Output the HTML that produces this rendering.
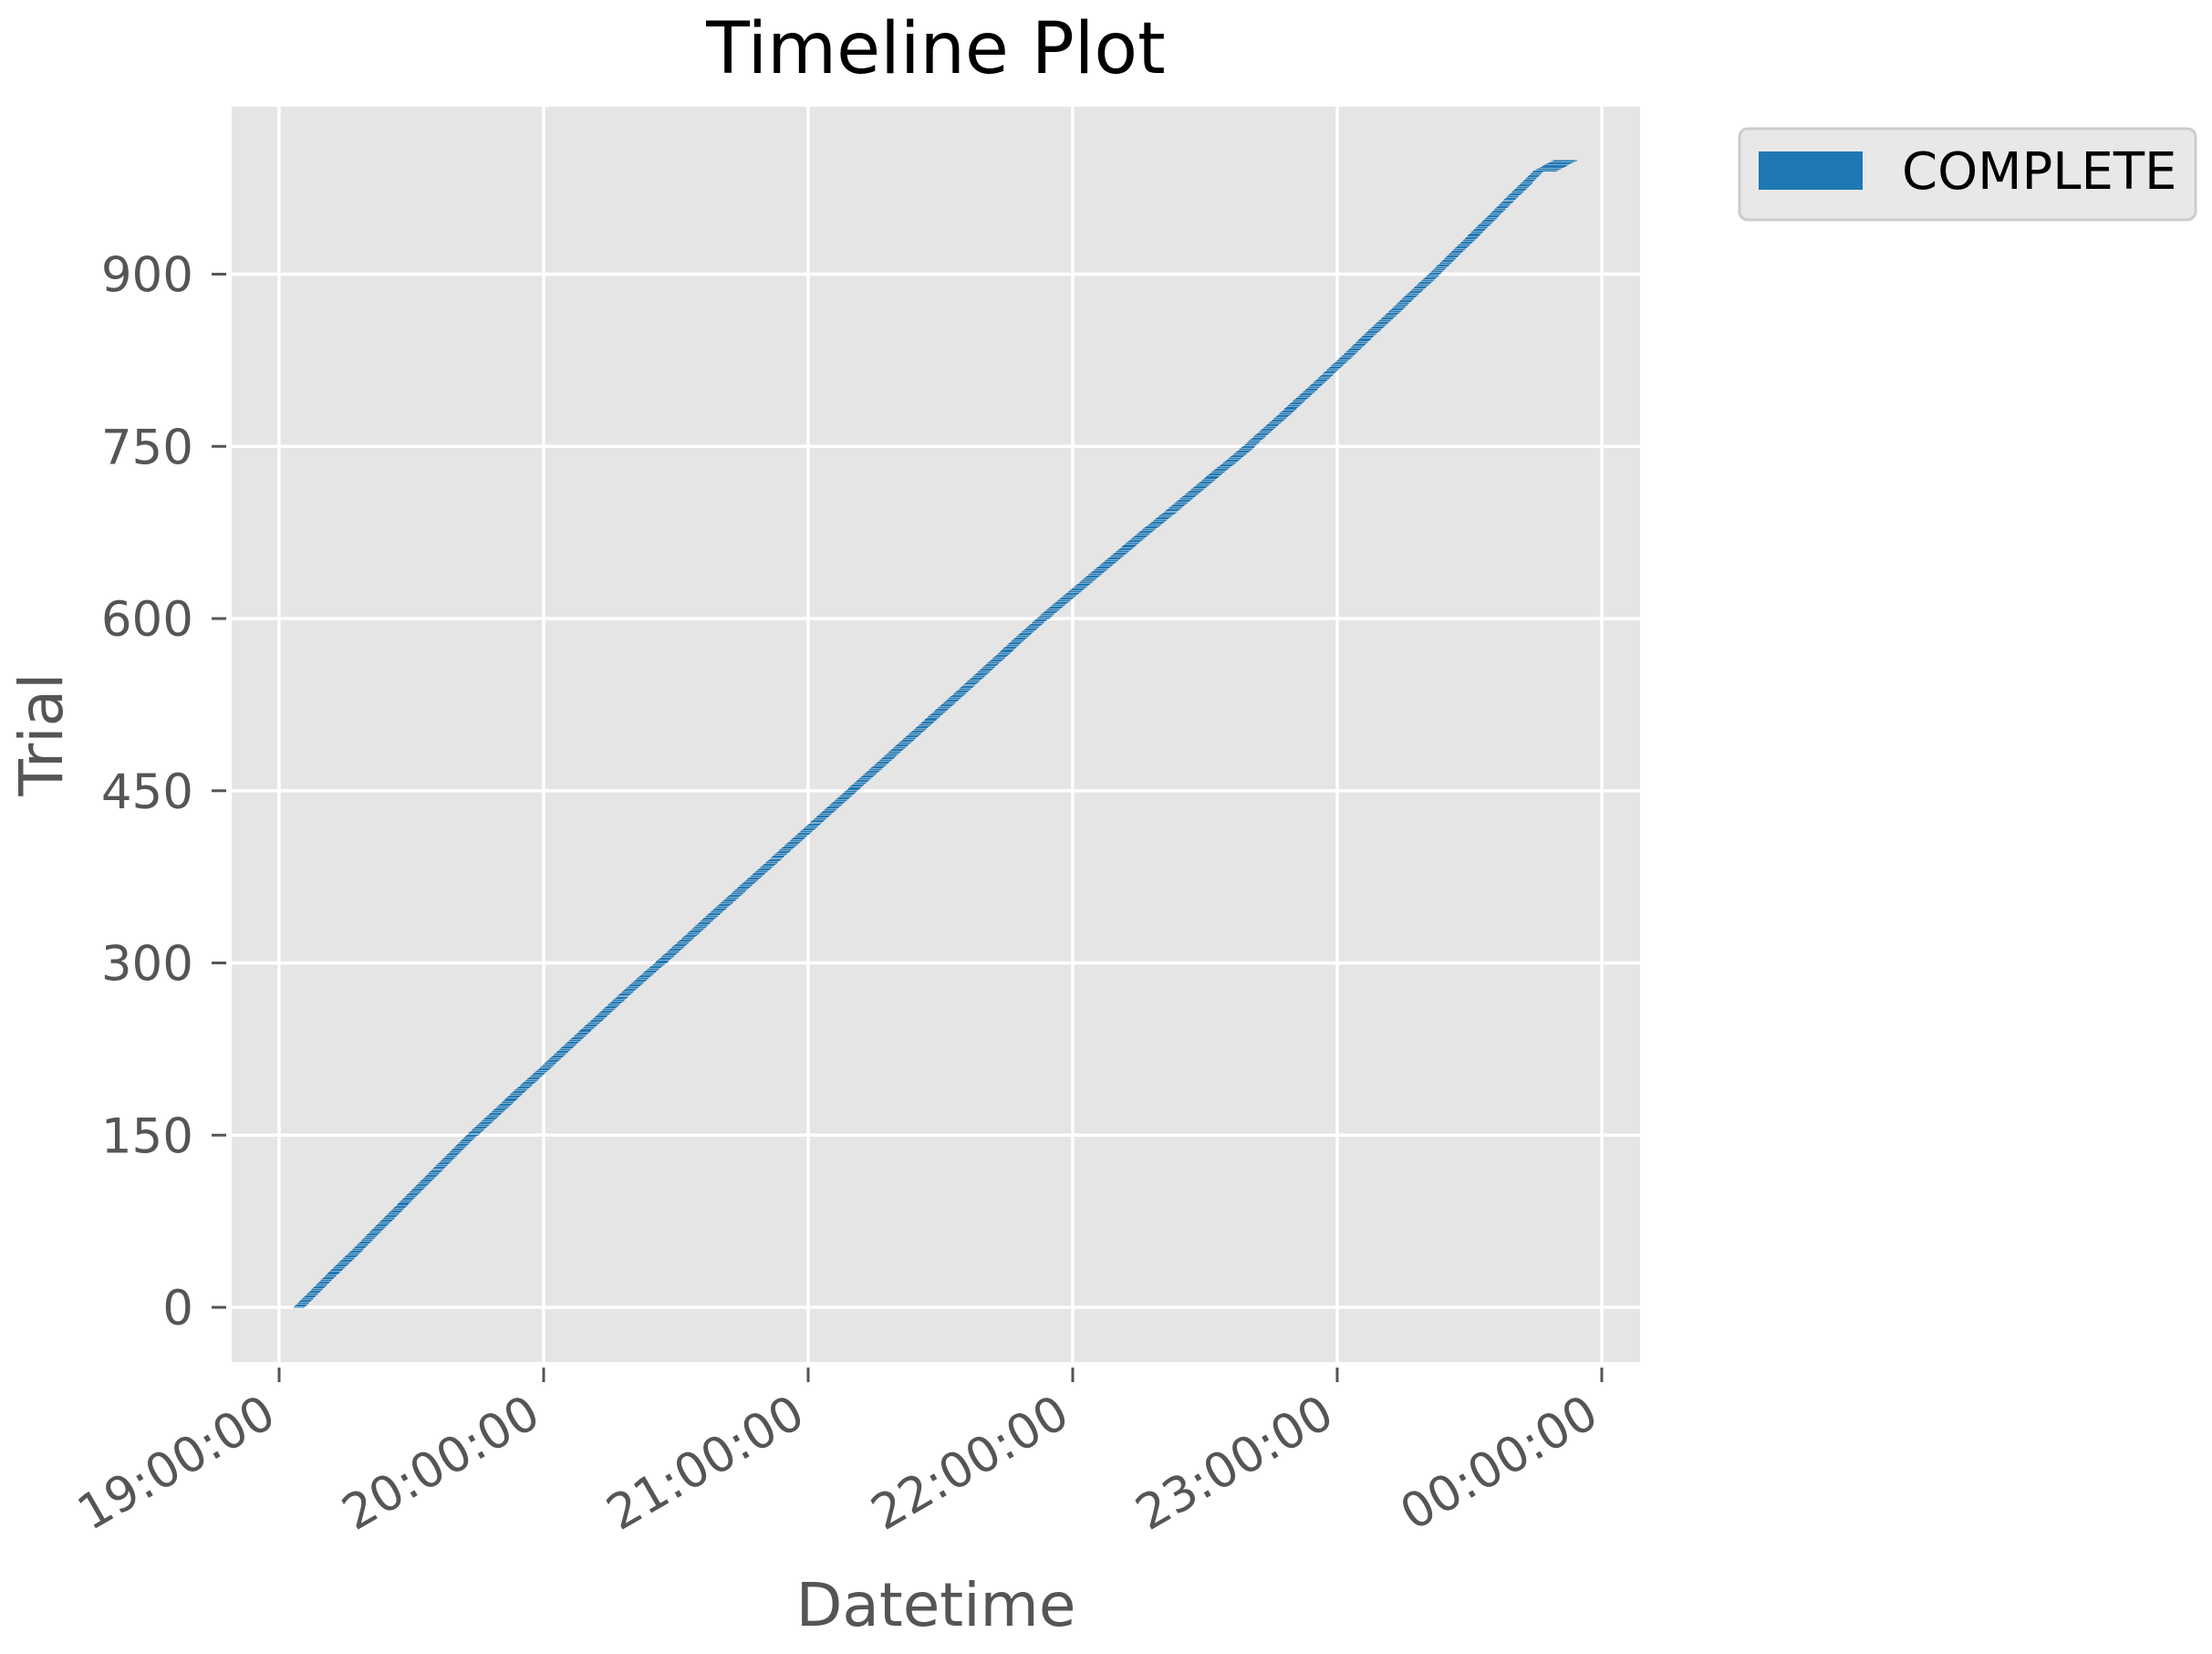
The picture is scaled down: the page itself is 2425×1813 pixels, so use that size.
<!DOCTYPE html>
<html><head><meta charset="utf-8"><style>
html,body{margin:0;padding:0;background:#fff;}
svg{display:block;font-family:"DejaVu Sans","Liberation Sans",sans-serif;}
</style></head><body>
<svg id="chart" width="2425" height="1813" viewBox="0 0 2425 1813" xmlns="http://www.w3.org/2000/svg">
<rect x="254" y="117" width="1544" height="1376" fill="#e5e5e5"/>
<g id="grid"></g>
<g id="bars" shape-rendering="crispEdges"></g>
<g id="axes"></g>
<text x="1026" y="80" font-size="78" text-anchor="middle" fill="#000">Timeline Plot</text>
<text x="1026" y="1782" font-size="66" text-anchor="middle" fill="#555">Datetime</text>
<text transform="translate(68,805) rotate(-90)" font-size="66" text-anchor="middle" fill="#555">Trial</text>
<g>
<rect x="1907" y="141" width="500" height="100" rx="9" fill="#e8e8e8" stroke="#cccccc" stroke-width="3"/>
<rect x="1928" y="166" width="114" height="42" fill="#1f77b4"/>
<text x="2085" y="207" font-size="56" fill="#000">COMPLETE</text>
</g>
</svg>
<script>
// Data: blocks of 10 trials (first trial index 0,10,...,990); startMinutes = start of the block's first trial (minutes after 19:00);
// trialDuration = run time of each trial in that block (minutes)
const blockTrials = Array.from({length:100},(_, i)=>i*10);
const startMinutes = [
3.3,5.9,8.5,11.1,13.8, 16.5,19.1,21.7,24.3,26.9,
29.5,32.1,34.7,37.3,39.9, 42.5,45.3,48.1,50.9,53.7,
56.6,59.5,62.3,65.1,67.9, 70.8,73.6,76.4,79.3,82.2,
85.2,88.1,90.9,93.8,96.6, 99.5,102.4,105.3,108.2,111.1,
114,116.9,119.8,122.7,125.6, 128.5,131.4,134.3,137.2,140.1,
143,145.9,148.8,151.7,154.6, 157.5,160.3,163.2,166.0,168.9,
171.8,174.8,177.9,181.0,184.1, 187.2,190.3,193.4,196.6,199.8,
203,206.1,209.2,212.3,215.5, 218.6,221.5,224.4,227.3,230.1,
233,235.8,238.6,241.4,244.1, 246.8,249.6,252.4,255.1,257.9,
260.7,263.4,266.0,268.7,271.3, 274,276.6,279.2,281.9,284.5];
const lastTrialStart = 289.5;
const trialDuration = [
2.5,2.5,2.5,2.6,2.6, 2.5,2.5,2.5,2.5,2.5,
2.5,2.5,2.5,2.5,2.5, 2.7,2.7,2.7,2.7,2.7,
2.6,2.6,2.6,2.6,2.6, 2.6,2.6,2.6,2.6,2.6,
2.7,2.7,2.7,2.7,2.7, 2.7,2.7,2.7,2.7,2.7,
2.7,2.7,2.7,2.7,2.7, 2.7,2.7,2.7,2.7,2.7,
2.7,2.7,2.7,2.7,2.7, 2.7,2.7,2.7,2.7,2.7,
2.9,2.9,2.9,2.9,2.9, 2.9,2.9,2.9,2.9,2.9,
2.9,2.9,2.9,2.9,2.9, 2.7,2.7,2.7,2.7,2.7,
2.6,2.6,2.6,2.6,2.6, 2.7,2.7,2.7,2.7,2.7,
2.6,2.6,2.6,2.6,2.6, 2.5,2.5,2.6,2.4,5.4];
const yTicks = [0,150,300,450,600,750,900];
const xTickHours = [0,1,2,3,4,5];
const xTickLabels = ["19:00:00","20:00:00","21:00:00","22:00:00","23:00:00","00:00:00"];

const NS="http://www.w3.org/2000/svg";
const X0=306, PX_PER_MIN=290/60;
function xScale(min){return X0+min*PX_PER_MIN;}
const Y0=1433, PX_PER_TRIAL=1.2583;
function yScale(t){return Y0-t*PX_PER_TRIAL;}
function mk(tag,attrs,parent){const e=document.createElementNS(NS,tag);for(const k in attrs)e.setAttribute(k,attrs[k]);parent.appendChild(e);return e;}

const grid=document.getElementById('grid'), bars=document.getElementById('bars'), axes=document.getElementById('axes');
yTicks.forEach(v=>{
  const y=yScale(v);
  const gl=mk('line',{x1:254,x2:1798,y1:y,y2:y,stroke:'#fff','stroke-width':3.5},grid);
  
  
  const tk=mk('line',{x1:232,x2:248,y1:y,y2:y,stroke:'#555','stroke-width':3},axes);
  
  
  const t=mk('text',{x:212,y:y+19,'font-size':53,'text-anchor':'end',fill:'#555'},axes);
  t.textContent=v;
  
  
});
xTickHours.forEach((h,i)=>{
  const x=xScale(h*60);
  const gl=mk('line',{x1:x,x2:x,y1:117,y2:1493,stroke:'#fff','stroke-width':3.5},grid);
  
  
  const tk=mk('line',{x1:x,x2:x,y1:1499,y2:1515,stroke:'#555','stroke-width':3},axes);
  
  
  const t=mk('text',{transform:`translate(${x-20},1526) rotate(-30)`,dy:'0.73em','font-size':53,'text-anchor':'end',fill:'#555'},axes);
  t.textContent=xTickLabels[i];
  
  
});
blockTrials.forEach((tr,i)=>{
  const next = i+1<startMinutes.length ? startMinutes[i+1] : lastTrialStart;
  for(let j=0;j<10;j++){
    const s = startMinutes[i] + (next-startMinutes[i])*j/10;
    const x1=xScale(s), x2=xScale(s+trialDuration[i]);
    const t=tr+j;
    const top=yScale(t+0.4), bot=yScale(t-0.4);
    const r=mk('rect',{x:x1,y:top,width:x2-x1,height:Math.max(bot-top,1),fill:'#1f77b4'},bars);
    
    
  }
});
</script>
</body></html>
